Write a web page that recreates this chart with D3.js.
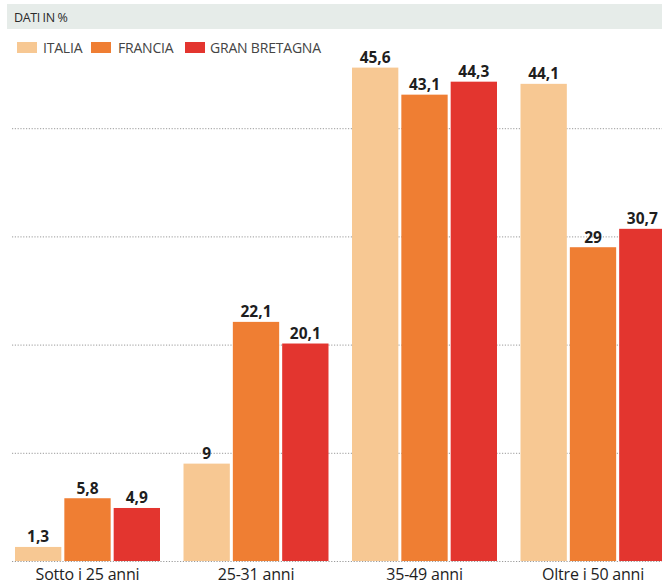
<!DOCTYPE html>
<html>
<head>
<meta charset="utf-8">
<script src="https://cdn.jsdelivr.net/npm/d3@7"></script>
<style>
  html, body { margin: 0; padding: 0; background: #ffffff; }
  svg { display: block; }
</style>
</head>
<body>
<script>
// Età per fascia, valori in percentuale
const categories = ["Sotto i 25 anni", "25-31 anni", "35-49 anni", "Oltre i 50 anni"];
const seriesNames = ["ITALIA", "FRANCIA", "GRAN BRETAGNA"];
const italia = [1.3, 9, 45.6, 44.1];
const francia = [5.8, 22.1, 43.1, 29];
const granBretagna = [4.9, 20.1, 44.3, 30.7];
const gridValues = [0, 10, 20, 30, 40];
const colors = ["#f7c893", "#ef7e33", "#e3352f"];

const seriesValues = [italia, francia, granBretagna];
const rows = categories.map((c, i) => ({
  cat: c,
  vals: seriesNames.map((s, j) => ({ s, v: seriesValues[j][i] }))
}));

const W = 662, H = 585;
const svg = d3.select("body").append("svg").attr("width", W).attr("height", H);

const fmt = v => String(v).replace(".", ",");

// header band
svg.append("rect").attr("x", 7).attr("y", 4).attr("width", W - 7).attr("height", 25)
  .attr("fill", "#e6ece9");
svg.append("text").attr("x", 14).attr("y", 21.5)
  .attr("font-family", "'Open Sans', sans-serif").attr("font-size", 12.5)
  .attr("letter-spacing", -0.4)
  .attr("fill", "#2b2b2b").text("DATI IN %");

// legend
const legend = svg.append("g");
const swatchX = [17, 91, 185];
const labelX = [43, 118, 210];
seriesNames.forEach((s, i) => {
  legend.append("rect").attr("x", swatchX[i]).attr("y", 42).attr("width", 20).attr("height", 11)
    .attr("fill", colors[i]);
  legend.append("text").attr("x", labelX[i]).attr("y", 53)
    .attr("font-family", "'Open Sans', sans-serif").attr("font-size", 14)
    .attr("letter-spacing", -0.2)
    .attr("fill", "#444").text(s);
});

// scales
const y = d3.scaleLinear().domain([0, 50]).range([561, 561 - 50 * 10.82]);
const x0 = d3.scaleBand().domain(categories).range([3.25, 677.25])
  .paddingInner(0.1395).paddingOuter(0.06975);
const x1 = d3.scaleBand().domain(seriesNames).range([0, x0.bandwidth()]).paddingInner(0.061);
const color = d3.scaleOrdinal().domain(seriesNames).range(colors);

// dotted gridlines
const grid = d3.axisLeft(y).tickValues(gridValues).tickSize(-(W - 12)).tickFormat("");
const gg = svg.append("g").attr("transform", "translate(12,0)").call(grid);
gg.select(".domain").remove();
gg.selectAll(".tick line").attr("stroke", "#9a9a9a").attr("stroke-width", 1)
  .attr("stroke-dasharray", "1.2,1.6");

// bars
const groups = svg.append("g").selectAll("g").data(rows).join("g")
  .attr("transform", d => `translate(${x0(d.cat)},0)`);

groups.selectAll("rect").data(d => d.vals).join("rect")
  .attr("x", d => x1(d.s))
  .attr("y", d => y(d.v))
  .attr("width", x1.bandwidth())
  .attr("height", d => y(0) - y(d.v))
  .attr("fill", d => color(d.s));

groups.selectAll("text").data(d => d.vals).join("text")
  .attr("x", d => x1(d.s) + x1.bandwidth() / 2)
  .attr("y", d => y(d.v) - 4.5)
  .attr("text-anchor", "middle")
  .attr("font-family", "'Open Sans', sans-serif").attr("font-weight", 700)
  .attr("font-size", 15.5).attr("fill", "#1e1e1e")
  .text(d => fmt(d.v));

// category labels
const xAxis = d3.axisBottom(x0).tickSize(0).tickPadding(0);
const xa = svg.append("g").attr("transform", "translate(0,580)").call(xAxis);
xa.select(".domain").remove();
xa.selectAll("text")
  .attr("font-family", "'Open Sans', sans-serif").attr("font-size", 16)
  .attr("letter-spacing", -0.2)
  .attr("fill", "#1e1e1e").attr("dy", "0").attr("y", 0);
</script>
</body>
</html>
